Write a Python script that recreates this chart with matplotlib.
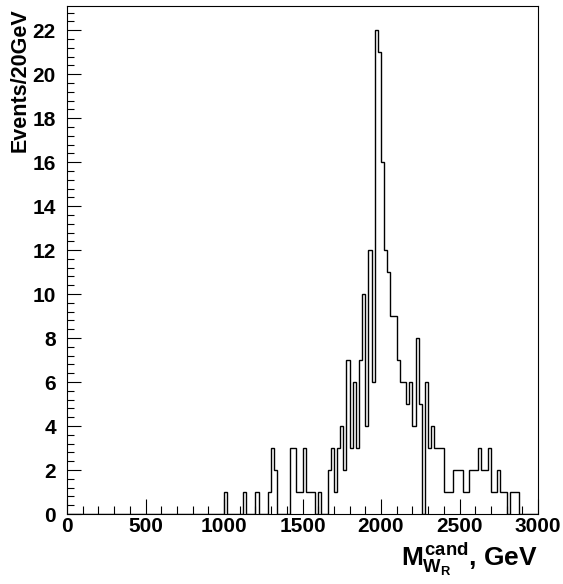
import matplotlib
matplotlib.use('Agg')
import matplotlib.pyplot as plt
import numpy as np
from matplotlib.ticker import MultipleLocator

plt.rcParams['font.family'] = ['Liberation Sans', 'DejaVu Sans']
plt.rcParams['font.weight'] = 'bold'
plt.rcParams['mathtext.fontset'] = 'custom'
plt.rcParams['mathtext.rm'] = 'Liberation Sans:bold'
plt.rcParams['mathtext.it'] = 'Liberation Sans:bold'
plt.rcParams['mathtext.bf'] = 'Liberation Sans:bold'

# histogram: 150 bins of 20 GeV from 0 to 3000 GeV
bin_width = 20
x_min, x_max = 0, 3000
# lower edge of each non-empty bin (GeV) and its number of events
bin_low = [1000, 1120, 1200, 1280, 1300, 1320, 1420, 1440, 1460, 1480,
           1500, 1520, 1540, 1560, 1600, 1660, 1680, 1700, 1720, 1740,
           1760, 1780, 1800, 1820, 1840, 1860, 1880, 1900, 1920, 1940,
           1960, 1980, 2000, 2020, 2040, 2060, 2080, 2100, 2120, 2140,
           2160, 2180, 2200, 2220, 2240, 2280, 2300, 2320, 2340, 2360,
           2380, 2400, 2420, 2440, 2460, 2480, 2500, 2520, 2540, 2560,
           2580, 2600, 2620, 2640, 2660, 2680, 2700, 2720, 2740, 2760,
           2780, 2820, 2840, 2860]
bin_count = [1, 1, 1, 1, 3, 2, 3, 3, 1, 1,
             3, 1, 1, 1, 1, 2, 3, 1, 3, 4,
             2, 7, 3, 6, 3, 7, 10, 4, 12, 6,
             22, 21, 16, 12, 11, 9, 9, 7, 6, 6,
             5, 6, 4, 8, 5, 6, 3, 4, 3, 3,
             3, 1, 1, 1, 2, 2, 2, 1, 1, 2,
             2, 2, 3, 2, 2, 3, 1, 1, 2, 1,
             1, 1, 1, 1]

edges = np.arange(x_min, x_max + bin_width, bin_width)
counts = np.zeros(len(edges) - 1)
for low, c in zip(bin_low, bin_count):
    counts[(low - x_min) // bin_width] = c

W, H = 563, 584
fig = plt.figure(figsize=(W / 100, H / 100), dpi=100)
ax = fig.add_axes([67 / W, 1 - 514 / H, (538 - 67) / W, (514 - 6) / H])

ax.stairs(counts, edges, color='black', lw=1.0, baseline=0)

ax.set_xlim(x_min, x_max)
ax.set_ylim(0, 1.05 * max(bin_count))
ax.xaxis.set_major_locator(MultipleLocator(500))
ax.xaxis.set_minor_locator(MultipleLocator(100))
ax.yaxis.set_major_locator(MultipleLocator(2))
ax.yaxis.set_minor_locator(MultipleLocator(0.4))

ax.tick_params(which='both', direction='in', top=False, right=False,
               labelsize=15, width=0.8, color='black')
ax.tick_params(axis='x', which='major', length=11, pad=2)
ax.tick_params(axis='x', which='minor', length=6)
ax.tick_params(axis='y', which='major', length=10, pad=8)
ax.tick_params(axis='y', which='minor', length=5)
for lab in ax.get_xticklabels() + ax.get_yticklabels():
    lab.set_fontweight('bold')

for s in ax.spines.values():
    s.set_linewidth(0.8)

fig.text(20 / W, 1 - 8 / H, 'Events/20GeV', rotation=90, ha='center', va='top',
         fontsize=15.5, fontweight='bold')
fig.text(538 / W, 1 - 541 / H, r'$M^{cand}_{W_R}$, GeV', ha='right', va='top',
         fontsize=19, fontweight='bold')

fig.savefig('out.png', dpi=100)
